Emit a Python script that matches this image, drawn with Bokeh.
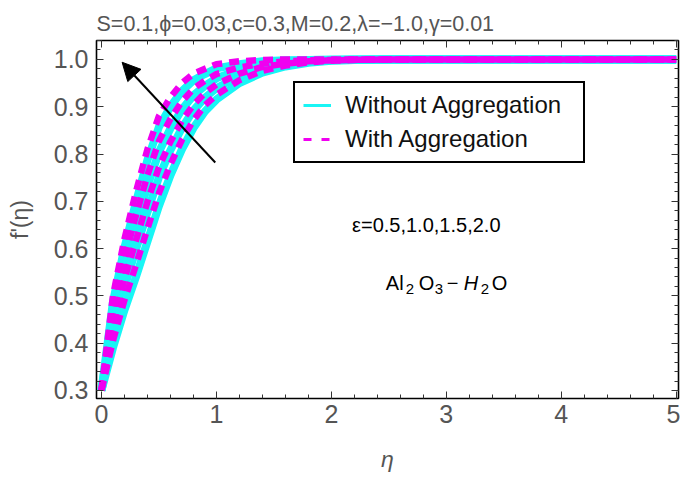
from bokeh.plotting import figure
from bokeh.models import (Range1d, SingleIntervalTicker, PrintfTickFormatter, Label, Arrow,
                          NormalHead, Legend, LegendItem, LinearAxis)
from bokeh.embed import file_html
from bokeh.resources import INLINE

# ---------------- data ----------------
eta = [0.0, 0.1, 0.2, 0.3, 0.4, 0.5, 0.6, 0.7, 0.8, 0.9, 1.0, 1.2, 1.4, 1.6, 1.8, 2.0, 2.2, 2.5, 3.0, 4.0, 5.0]

# without aggregation, eps = 2.0, 1.5, 1.0, 0.5
without_eps20 = [0.30, 0.487, 0.602, 0.698, 0.787, 0.857, 0.900, 0.933, 0.956, 0.969, 0.981, 0.990, 0.996, 0.998, 0.999, 1.0, 1.0, 1.0, 1.0, 1.0, 1.0]
without_eps15 = [0.30, 0.456, 0.560, 0.648, 0.732, 0.804, 0.854, 0.894, 0.924, 0.944, 0.960, 0.978, 0.988, 0.994, 0.997, 0.999, 1.0, 1.0, 1.0, 1.0, 1.0]
without_eps10 = [0.30, 0.425, 0.518, 0.598, 0.677, 0.751, 0.808, 0.855, 0.892, 0.919, 0.939, 0.965, 0.981, 0.990, 0.995, 0.998, 0.999, 1.0, 1.0, 1.0, 1.0]
without_eps05 = [0.30, 0.390, 0.470, 0.540, 0.615, 0.690, 0.755, 0.810, 0.855, 0.890, 0.915, 0.950, 0.972, 0.985, 0.993, 0.997, 0.999, 1.0, 1.0, 1.0, 1.0]

# with aggregation, eps = 2.0, 1.5, 1.0, 0.5
with_eps20 = [0.30, 0.500, 0.620, 0.720, 0.810, 0.880, 0.920, 0.950, 0.970, 0.980, 0.990, 0.996, 0.999, 1.0, 1.0, 1.0, 1.0, 1.0, 1.0, 1.0, 1.0]
with_eps15 = [0.30, 0.469, 0.578, 0.670, 0.755, 0.827, 0.874, 0.911, 0.938, 0.955, 0.969, 0.983, 0.991, 0.996, 0.998, 0.999, 1.0, 1.0, 1.0, 1.0, 1.0]
with_eps10 = [0.30, 0.437, 0.535, 0.617, 0.699, 0.772, 0.826, 0.870, 0.904, 0.929, 0.947, 0.970, 0.984, 0.991, 0.996, 0.998, 0.999, 1.0, 1.0, 1.0, 1.0]
with_eps05 = [0.30, 0.405, 0.491, 0.565, 0.642, 0.717, 0.778, 0.830, 0.871, 0.903, 0.925, 0.956, 0.976, 0.987, 0.994, 0.997, 0.999, 1.0, 1.0, 1.0, 1.0]

without_series = [without_eps05, without_eps10, without_eps15, without_eps20]
with_series = [with_eps05, with_eps10, with_eps15, with_eps20]

title_text = "S=0.1,\u03d5=0.03,c=0.3,M=0.2,\u03bb=\u22121.0,\u03b3=0.01"
eps_text = "\u03b5=0.5,1.0,1.5,2.0"
# chemical formula pieces: (text, x offset px, y offset px, size, style)
fluid_pieces = [("Al", 0, 0, "20px", "normal"), ("2", 20, -6, "15px", "normal"),
                ("O", 33, 0, "20px", "normal"), ("3", 49, -6, "15px", "normal"),
                ("\u2212", 61, 0, "20px", "normal"), ("H", 78, 0, "20px", "italic"),
                ("2", 95, -6, "15px", "normal"), ("O", 106, 0, "20px", "normal")]
arrow_start = (0.99, 0.782)
arrow_end = (0.18, 0.994)

CYAN = "#19F5F5"
MAGENTA = "#F000F0"
GRAY = "#555555"
FONT = "Liberation Sans"
X0, X1, Y0, Y1 = -0.043, 5.02, 0.283, 1.04

p = figure(width=680, height=475, output_backend="svg", toolbar_location=None,
           x_range=Range1d(X0, X1), y_range=Range1d(Y0, Y1),
           min_border_left=96, min_border_right=2, min_border_top=40, min_border_bottom=77)

p.title.text = title_text
p.title.align = "left"
p.title.offset = 0
p.title.text_font = FONT
p.title.text_font_size = "21.5px"
p.title.text_font_style = "normal"
p.title.text_color = GRAY
p.title.text_line_height = 0.7
p.title.standoff = 10

p.grid.visible = False
p.outline_line_color = "black"
p.outline_line_width = 1.6
p.background_fill_color = "white"

p.xaxis.ticker = SingleIntervalTicker(interval=1, num_minor_ticks=5)
p.yaxis.ticker = SingleIntervalTicker(interval=0.1, num_minor_ticks=5)
p.xaxis.formatter = PrintfTickFormatter(format="%d")
p.yaxis.formatter = PrintfTickFormatter(format="%.1f")
for ax in (p.xaxis[0], p.yaxis[0]):
    ax.axis_line_color = None
    ax.major_tick_in = 7
    ax.major_tick_out = 0
    ax.minor_tick_in = 4
    ax.minor_tick_out = 0
    ax.major_tick_line_color = "#333333"
    ax.minor_tick_line_color = "#333333"
    ax.major_label_text_font = FONT
    ax.major_label_text_font_size = "25px"
    ax.major_label_text_color = GRAY
    ax.axis_label_text_font = FONT
    ax.axis_label_text_font_size = "23px"
    ax.axis_label_text_color = GRAY
p.xaxis.major_label_standoff = 6
p.yaxis.major_label_standoff = 8
p.xaxis.axis_label = "\u03b7"
p.xaxis.axis_label_text_font_style = "italic"
p.xaxis.axis_label_standoff = 20
p.yaxis.axis_label = "f'(\u03b7)"
p.yaxis.axis_label_text_font_style = "normal"
p.yaxis.axis_label_standoff = 18

# mirrored frame ticks (top / right)
for side in ("above", "right"):
    ax = LinearAxis(ticker=SingleIntervalTicker(interval=1 if side == "above" else 0.1, num_minor_ticks=5),
                    axis_line_color=None, major_tick_in=7, major_tick_out=0,
                    minor_tick_in=4, minor_tick_out=0,
                    major_tick_line_color="#333333", minor_tick_line_color="#333333",
                    major_label_text_font_size="1px", major_label_text_color=None,
                    major_label_standoff=0)
    p.add_layout(ax, side)

# thin legend proxies, drawn first so the thick curves cover them
leg_cyan = p.line(eta, without_eps05, line_color=CYAN, line_width=3)
leg_mag = p.line(eta, without_eps10, line_color=MAGENTA, line_width=3, line_dash="8 10")

for ys in without_series:
    p.line(eta, ys, line_color=CYAN, line_width=8)
for ys in with_series:
    p.line(eta, ys, line_color=MAGENTA, line_width=6.5, line_dash="10 7")

p.add_layout(Arrow(end=NormalHead(size=18, fill_color="black", line_color="black"),
                   x_start=arrow_start[0], y_start=arrow_start[1],
                   x_end=arrow_end[0], y_end=arrow_end[1],
                   line_color="black", line_width=2))

p.add_layout(Label(x=2.18, y=0.649, text=eps_text, text_font=FONT, text_font_size="20px",
                   text_color="black", text_baseline="middle"))
for txt, dx, dy, size, style in fluid_pieces:
    p.add_layout(Label(x=2.474, y=0.528, x_offset=dx, y_offset=dy, text=txt, text_font=FONT,
                       text_font_size=size, text_font_style=style,
                       text_color="black", text_baseline="middle"))

legend = Legend(items=[LegendItem(label="Without Aggregation", renderers=[leg_cyan]),
                       LegendItem(label="With Aggregation", renderers=[leg_mag])],
                location=(197, 235), border_line_color="black", border_line_width=2.5,
                border_line_alpha=1.0,
                label_text_font=FONT, label_text_font_size="24px", label_text_color="#111111",
                glyph_width=28, label_standoff=14, label_width=230, padding=8, spacing=6,
                margin=0, background_fill_alpha=1)
p.add_layout(legend, "center")

open("out.html", "w").write(file_html(p, INLINE))
